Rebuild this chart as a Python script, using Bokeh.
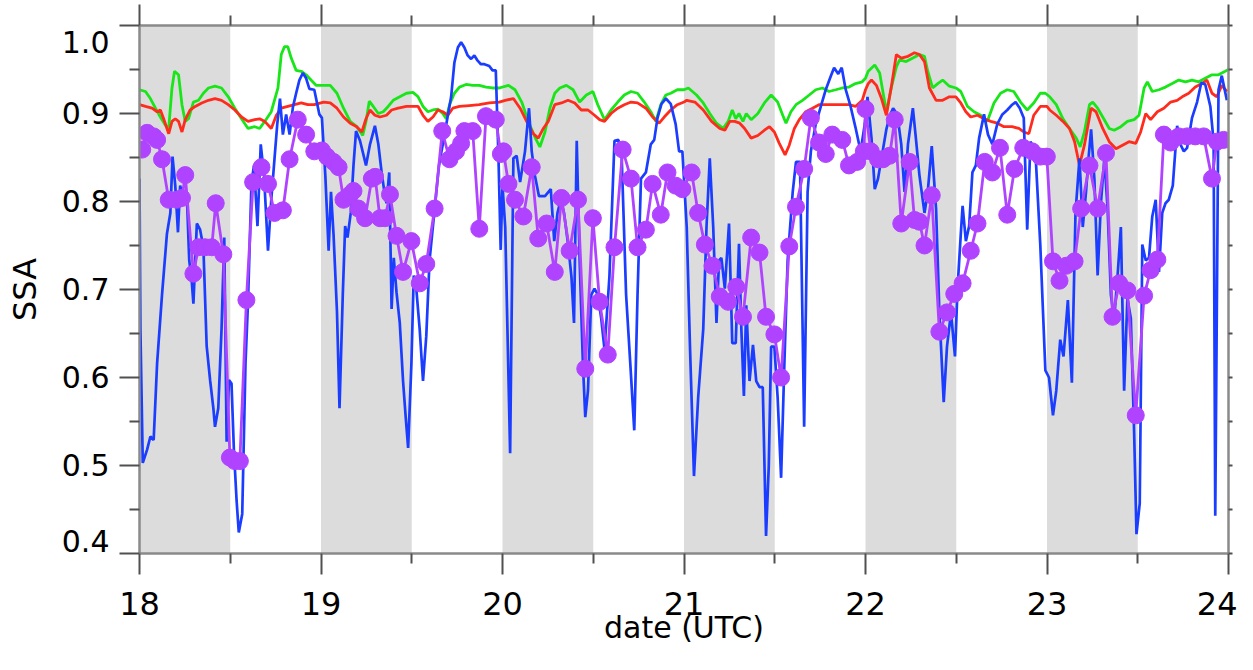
from bokeh.plotting import figure
from bokeh.models import (Range1d, LinearAxis, FixedTicker,
                          PrintfTickFormatter, CustomLabelingPolicy)
from bokeh.embed import file_html
from bokeh.resources import INLINE

# ---------------- data ----------------
shade_start = [18, 19, 20, 21, 22, 23]
shade_end = [18.5, 19.5, 20.5, 21.5, 22.5, 23.5]

x_ticks = [18, 19, 20, 21, 22, 23, 24]
x_minor = [18.5, 19.5, 20.5, 21.5, 22.5, 23.5]
y_ticks = [0.4, 0.5, 0.6, 0.7, 0.8, 0.9, 1.0]
y_minor = [0.45, 0.55, 0.65, 0.75, 0.85, 0.95]

green_pts = [
    (18.000, 0.927), (18.033, 0.925), (18.060, 0.917), (18.088, 0.906), (18.115, 0.896), (18.142, 0.887),
    (18.161, 0.883), (18.179, 0.929), (18.193, 0.948), (18.215, 0.944), (18.234, 0.910), (18.252, 0.891),
    (18.270, 0.894), (18.297, 0.913), (18.325, 0.915), (18.352, 0.923), (18.380, 0.929), (18.416, 0.931),
    (18.452, 0.929), (18.489, 0.919), (18.525, 0.906), (18.562, 0.894), (18.598, 0.883), (18.635, 0.885),
    (18.662, 0.883), (18.690, 0.891), (18.726, 0.902), (18.763, 0.929), (18.781, 0.967), (18.799, 0.976),
    (18.817, 0.976), (18.836, 0.963), (18.863, 0.949), (18.891, 0.948), (18.918, 0.944), (18.945, 0.938),
    (18.973, 0.932),
    (19.015, 0.932), (19.051, 0.932), (19.088, 0.923), (19.124, 0.906), (19.161, 0.891), (19.197, 0.885),
    (19.230, 0.875), (19.248, 0.891), (19.266, 0.914), (19.288, 0.908), (19.316, 0.900), (19.343, 0.902),
    (19.370, 0.908), (19.398, 0.915), (19.434, 0.919), (19.471, 0.923), (19.507, 0.924), (19.535, 0.919),
    (19.562, 0.908), (19.589, 0.902), (19.617, 0.904), (19.644, 0.905), (19.671, 0.900), (19.690, 0.894),
    (19.708, 0.910), (19.735, 0.923), (19.763, 0.930), (19.799, 0.933), (19.836, 0.932), (19.872, 0.932),
    (19.909, 0.930), (19.945, 0.929), (19.982, 0.929),
    (20.033, 0.932), (20.069, 0.927), (20.106, 0.913), (20.142, 0.891), (20.179, 0.873), (20.206, 0.862),
    (20.234, 0.879), (20.261, 0.906), (20.288, 0.923), (20.316, 0.929), (20.352, 0.932), (20.389, 0.927),
    (20.425, 0.913), (20.462, 0.921), (20.498, 0.925), (20.525, 0.910), (20.562, 0.893), (20.598, 0.904),
    (20.635, 0.913), (20.671, 0.921), (20.708, 0.925), (20.744, 0.923), (20.781, 0.913), (20.817, 0.902),
    (20.845, 0.891), (20.872, 0.910), (20.900, 0.921), (20.927, 0.923), (20.963, 0.927),
    (21.000, 0.927), (21.024, 0.929), (21.069, 0.921), (21.106, 0.912), (21.142, 0.900), (21.179, 0.889),
    (21.215, 0.883), (21.243, 0.891), (21.266, 0.904), (21.285, 0.894), (21.303, 0.900), (21.325, 0.891),
    (21.343, 0.900), (21.370, 0.893), (21.407, 0.900), (21.443, 0.912), (21.480, 0.921), (21.516, 0.913),
    (21.544, 0.898), (21.562, 0.889), (21.589, 0.902), (21.617, 0.910), (21.653, 0.915), (21.690, 0.921),
    (21.726, 0.927), (21.763, 0.929), (21.799, 0.925), (21.836, 0.927), (21.872, 0.929), (21.909, 0.930),
    (21.945, 0.934), (21.982, 0.936),
    (22.000, 0.940), (22.015, 0.948), (22.051, 0.955), (22.078, 0.946), (22.115, 0.902), (22.142, 0.929),
    (22.170, 0.953), (22.188, 0.961), (22.224, 0.959), (22.261, 0.963), (22.297, 0.967), (22.325, 0.965),
    (22.343, 0.948), (22.370, 0.929), (22.398, 0.934), (22.425, 0.938), (22.462, 0.931), (22.498, 0.929),
    (22.525, 0.925), (22.562, 0.908), (22.598, 0.902), (22.635, 0.898), (22.671, 0.891), (22.708, 0.912),
    (22.744, 0.923), (22.781, 0.927), (22.817, 0.925), (22.854, 0.913), (22.891, 0.904), (22.927, 0.912),
    (22.963, 0.923), (22.991, 0.923),
    (23.015, 0.919), (23.051, 0.910), (23.088, 0.894), (23.124, 0.883), (23.161, 0.872), (23.183, 0.862),
    (23.206, 0.879), (23.234, 0.910), (23.252, 0.913), (23.279, 0.906), (23.307, 0.896), (23.343, 0.883),
    (23.370, 0.881), (23.407, 0.885), (23.443, 0.891), (23.480, 0.893), (23.507, 0.898), (23.535, 0.929),
    (23.553, 0.936), (23.580, 0.925), (23.617, 0.927), (23.653, 0.930), (23.690, 0.934), (23.726, 0.938),
    (23.763, 0.936), (23.799, 0.938), (23.836, 0.936), (23.872, 0.940), (23.909, 0.944), (23.945, 0.944),
    (23.982, 0.948), (24.000, 0.950),
]

red_pts = [
    (18.000, 0.910), (18.033, 0.908), (18.069, 0.906), (18.097, 0.902), (18.115, 0.904), (18.133, 0.894),
    (18.161, 0.877), (18.179, 0.891), (18.197, 0.894), (18.215, 0.891), (18.234, 0.879), (18.252, 0.893),
    (18.279, 0.904), (18.307, 0.908), (18.343, 0.912), (18.380, 0.915), (18.416, 0.917), (18.452, 0.915),
    (18.489, 0.910), (18.525, 0.904), (18.562, 0.896), (18.598, 0.891), (18.635, 0.893), (18.662, 0.894),
    (18.690, 0.891), (18.726, 0.883), (18.754, 0.898), (18.781, 0.906), (18.817, 0.908), (18.854, 0.910),
    (18.891, 0.912), (18.927, 0.910), (18.963, 0.910),
    (19.015, 0.913), (19.051, 0.912), (19.088, 0.906), (19.124, 0.896), (19.161, 0.889), (19.197, 0.885),
    (19.225, 0.879), (19.248, 0.894), (19.270, 0.904), (19.297, 0.898), (19.325, 0.896), (19.361, 0.898),
    (19.389, 0.904), (19.425, 0.906), (19.471, 0.908), (19.507, 0.908), (19.535, 0.908), (19.562, 0.898),
    (19.589, 0.891), (19.617, 0.896), (19.644, 0.904), (19.671, 0.902), (19.699, 0.898), (19.726, 0.906),
    (19.763, 0.908), (19.817, 0.909), (19.872, 0.910), (19.927, 0.912), (19.982, 0.913),
    (20.015, 0.915), (20.060, 0.917), (20.097, 0.906), (20.133, 0.891), (20.170, 0.877), (20.197, 0.872),
    (20.225, 0.883), (20.252, 0.891), (20.288, 0.910), (20.325, 0.912), (20.361, 0.915), (20.398, 0.912),
    (20.434, 0.904), (20.471, 0.904), (20.507, 0.898), (20.535, 0.893), (20.562, 0.891), (20.598, 0.900),
    (20.635, 0.906), (20.671, 0.910), (20.708, 0.913), (20.744, 0.912), (20.790, 0.906), (20.827, 0.896),
    (20.863, 0.889), (20.891, 0.896), (20.927, 0.904), (20.963, 0.910),
    (21.000, 0.913), (21.015, 0.915), (21.060, 0.913), (21.106, 0.904), (21.152, 0.891), (21.197, 0.883),
    (21.225, 0.881), (21.252, 0.891), (21.279, 0.891), (21.307, 0.889), (21.334, 0.883), (21.370, 0.872),
    (21.407, 0.875), (21.443, 0.881), (21.471, 0.885), (21.498, 0.879), (21.525, 0.866), (21.557, 0.853),
    (21.580, 0.864), (21.608, 0.883), (21.635, 0.893), (21.671, 0.902), (21.708, 0.906), (21.744, 0.910),
    (21.799, 0.910), (21.854, 0.910), (21.909, 0.910), (21.945, 0.908), (21.982, 0.915),
    (22.000, 0.927), (22.015, 0.934), (22.033, 0.938), (22.060, 0.932), (22.088, 0.917), (22.115, 0.898),
    (22.142, 0.930), (22.170, 0.967), (22.197, 0.963), (22.234, 0.965), (22.270, 0.969), (22.297, 0.967),
    (22.325, 0.959), (22.352, 0.929), (22.389, 0.915), (22.425, 0.915), (22.462, 0.919), (22.498, 0.919),
    (22.525, 0.912), (22.553, 0.902), (22.580, 0.896), (22.617, 0.898), (22.653, 0.894), (22.690, 0.891),
    (22.726, 0.889), (22.763, 0.885), (22.808, 0.885), (22.845, 0.883), (22.872, 0.879), (22.900, 0.877),
    (22.927, 0.898), (22.963, 0.908), (23.000, 0.908),
    (23.015, 0.904), (23.051, 0.898), (23.088, 0.891), (23.124, 0.883), (23.152, 0.868), (23.179, 0.841),
    (23.206, 0.864), (23.243, 0.906), (23.270, 0.902), (23.307, 0.883), (23.343, 0.868), (23.380, 0.860),
    (23.416, 0.864), (23.452, 0.868), (23.489, 0.866), (23.516, 0.879), (23.544, 0.900), (23.571, 0.893),
    (23.608, 0.902), (23.644, 0.906), (23.681, 0.913), (23.717, 0.915), (23.745, 0.919), (23.781, 0.923),
    (23.817, 0.930), (23.854, 0.934), (23.881, 0.938), (23.909, 0.923), (23.936, 0.919), (23.963, 0.932),
    (23.991, 0.925),
]

blue_pts = [
    (18.000, 0.826), (18.005, 0.655), (18.018, 0.503), (18.042, 0.518), (18.060, 0.533), (18.078, 0.529),
    (18.097, 0.616), (18.124, 0.694), (18.151, 0.763), (18.170, 0.787), (18.182, 0.851), (18.197, 0.818),
    (18.212, 0.765), (18.224, 0.818), (18.243, 0.802), (18.261, 0.806), (18.274, 0.733), (18.288, 0.709),
    (18.297, 0.684), (18.316, 0.775), (18.334, 0.768), (18.352, 0.748), (18.370, 0.636), (18.389, 0.597),
    (18.407, 0.565), (18.416, 0.544), (18.434, 0.565), (18.452, 0.655), (18.467, 0.759), (18.480, 0.527),
    (18.493, 0.597), (18.507, 0.593), (18.520, 0.518), (18.535, 0.460), (18.547, 0.424), (18.566, 0.445),
    (18.584, 0.616), (18.598, 0.686), (18.617, 0.822), (18.631, 0.841), (18.650, 0.772), (18.668, 0.865),
    (18.686, 0.830), (18.708, 0.744), (18.726, 0.802), (18.744, 0.849), (18.759, 0.888), (18.774, 0.917),
    (18.790, 0.876), (18.808, 0.899), (18.827, 0.876), (18.845, 0.907), (18.863, 0.923), (18.881, 0.938),
    (18.900, 0.946), (18.918, 0.940), (18.936, 0.928), (18.963, 0.927), (18.991, 0.899),
    (19.005, 0.895), (19.024, 0.829), (19.042, 0.744), (19.055, 0.811), (19.069, 0.763), (19.088, 0.675),
    (19.102, 0.565), (19.120, 0.694), (19.133, 0.772), (19.146, 0.759), (19.164, 0.787), (19.179, 0.841),
    (19.193, 0.880), (19.215, 0.869), (19.248, 0.841), (19.270, 0.865), (19.297, 0.886), (19.316, 0.865),
    (19.334, 0.833), (19.347, 0.814), (19.361, 0.798), (19.376, 0.833), (19.389, 0.678), (19.401, 0.736),
    (19.416, 0.697), (19.434, 0.662), (19.452, 0.596), (19.467, 0.554), (19.480, 0.520), (19.498, 0.615),
    (19.511, 0.716), (19.525, 0.701), (19.544, 0.654), (19.562, 0.596), (19.580, 0.647), (19.598, 0.733),
    (19.626, 0.791), (19.650, 0.841), (19.671, 0.865), (19.693, 0.891), (19.717, 0.919), (19.735, 0.958),
    (19.754, 0.975), (19.772, 0.981), (19.790, 0.975), (19.808, 0.966), (19.827, 0.962), (19.845, 0.966),
    (19.863, 0.960), (19.881, 0.956), (19.900, 0.956), (19.927, 0.954), (19.945, 0.949), (19.963, 0.949),
    (19.978, 0.849), (19.990, 0.745), (20.000, 0.818),
    (20.015, 0.771), (20.042, 0.514), (20.060, 0.849), (20.078, 0.852), (20.097, 0.822), (20.124, 0.857),
    (20.146, 0.906), (20.161, 0.857), (20.179, 0.829), (20.201, 0.806), (20.234, 0.806), (20.266, 0.814),
    (20.285, 0.755), (20.303, 0.787), (20.321, 0.802), (20.339, 0.787), (20.361, 0.752), (20.380, 0.714),
    (20.394, 0.662), (20.409, 0.869), (20.425, 0.733), (20.443, 0.616), (20.456, 0.555), (20.471, 0.585),
    (20.489, 0.694), (20.507, 0.701), (20.525, 0.694), (20.544, 0.667), (20.562, 0.632), (20.589, 0.714),
    (20.617, 0.869), (20.639, 0.870), (20.657, 0.849), (20.681, 0.694), (20.704, 0.616), (20.726, 0.540),
    (20.744, 0.694), (20.763, 0.826), (20.790, 0.833), (20.817, 0.865), (20.836, 0.870), (20.854, 0.895),
    (20.876, 0.911), (20.900, 0.917), (20.927, 0.911), (20.954, 0.888), (20.973, 0.857), (20.991, 0.857),
    (21.015, 0.771), (21.033, 0.635), (21.055, 0.488), (21.078, 0.577), (21.106, 0.655), (21.124, 0.771),
    (21.142, 0.849), (21.161, 0.771), (21.179, 0.662), (21.193, 0.733), (21.206, 0.736), (21.225, 0.701),
    (21.248, 0.775), (21.266, 0.639), (21.285, 0.639), (21.303, 0.752), (21.316, 0.655), (21.330, 0.579),
    (21.343, 0.682), (21.361, 0.596), (21.380, 0.637), (21.398, 0.596), (21.416, 0.589), (21.434, 0.589),
    (21.452, 0.420), (21.467, 0.499), (21.480, 0.635), (21.498, 0.635), (21.516, 0.577), (21.535, 0.486),
    (21.553, 0.616), (21.571, 0.733), (21.599, 0.811), (21.617, 0.845), (21.639, 0.845), (21.662, 0.544),
    (21.681, 0.811), (21.699, 0.857), (21.726, 0.888), (21.754, 0.908), (21.781, 0.927), (21.808, 0.942),
    (21.827, 0.952), (21.850, 0.945), (21.869, 0.952), (21.891, 0.927), (21.918, 0.908), (21.945, 0.884),
    (21.973, 0.857), (21.996, 0.888),
    (22.011, 0.919), (22.033, 0.872), (22.051, 0.814), (22.069, 0.826), (22.088, 0.849), (22.115, 0.882),
    (22.133, 0.897), (22.152, 0.906), (22.175, 0.899), (22.197, 0.865), (22.215, 0.811), (22.234, 0.865),
    (22.261, 0.906), (22.279, 0.869), (22.297, 0.830), (22.325, 0.787), (22.343, 0.811), (22.365, 0.863),
    (22.389, 0.791), (22.407, 0.674), (22.431, 0.572), (22.449, 0.635), (22.471, 0.674), (22.493, 0.624),
    (22.507, 0.701), (22.525, 0.763), (22.535, 0.795), (22.553, 0.755), (22.571, 0.772), (22.589, 0.833),
    (22.608, 0.841), (22.626, 0.872), (22.653, 0.899), (22.675, 0.876), (22.699, 0.865), (22.726, 0.888),
    (22.754, 0.899), (22.781, 0.904), (22.808, 0.910), (22.827, 0.913), (22.850, 0.906), (22.872, 0.895),
    (22.891, 0.768), (22.909, 0.868), (22.936, 0.857), (22.963, 0.751), (22.991, 0.608),
    (23.011, 0.600), (23.033, 0.557), (23.051, 0.585), (23.073, 0.643), (23.091, 0.624), (23.115, 0.688),
    (23.137, 0.594), (23.157, 0.787), (23.179, 0.849), (23.197, 0.771), (23.215, 0.811), (23.230, 0.852),
    (23.243, 0.882), (23.261, 0.826), (23.279, 0.716), (23.297, 0.798), (23.316, 0.849), (23.334, 0.791),
    (23.352, 0.694), (23.370, 0.667), (23.389, 0.716), (23.407, 0.771), (23.425, 0.585), (23.443, 0.690),
    (23.462, 0.667), (23.480, 0.538), (23.493, 0.422), (23.511, 0.457), (23.525, 0.751), (23.544, 0.733),
    (23.562, 0.736), (23.580, 0.783), (23.599, 0.802), (23.617, 0.720), (23.635, 0.787), (23.653, 0.798),
    (23.671, 0.802), (23.693, 0.818), (23.717, 0.886), (23.735, 0.865), (23.754, 0.857), (23.772, 0.861),
    (23.799, 0.895), (23.827, 0.913), (23.850, 0.935), (23.872, 0.933), (23.900, 0.908), (23.918, 0.868),
    (23.927, 0.443), (23.945, 0.927), (23.963, 0.943), (23.991, 0.915),
]

purple_pts = [
    (18.015, 0.859), (18.042, 0.878), (18.078, 0.874), (18.097, 0.870), (18.124, 0.848), (18.161, 0.802),
    (18.206, 0.802), (18.234, 0.804), (18.252, 0.830), (18.297, 0.718), (18.325, 0.748), (18.361, 0.748),
    (18.398, 0.748), (18.420, 0.798), (18.462, 0.740), (18.498, 0.509), (18.525, 0.505), (18.553, 0.505),
    (18.589, 0.688), (18.626, 0.822), (18.672, 0.839), (18.708, 0.820), (18.744, 0.787), (18.790, 0.790),
    (18.827, 0.848), (18.872, 0.893), (18.918, 0.876), (18.963, 0.857),
    (19.005, 0.858), (19.033, 0.851), (19.069, 0.845), (19.097, 0.839), (19.124, 0.802), (19.161, 0.808),
    (19.179, 0.812), (19.206, 0.792), (19.243, 0.781), (19.280, 0.826), (19.298, 0.828), (19.325, 0.781),
    (19.352, 0.781), (19.380, 0.808), (19.416, 0.761), (19.452, 0.720), (19.498, 0.755), (19.544, 0.707),
    (19.580, 0.729), (19.626, 0.792), (19.668, 0.880), (19.708, 0.848), (19.744, 0.857), (19.772, 0.866),
    (19.790, 0.880), (19.836, 0.880), (19.872, 0.769), (19.909, 0.897), (19.963, 0.893), (19.991, 0.854),
    (20.005, 0.857), (20.033, 0.820), (20.069, 0.802), (20.115, 0.783), (20.161, 0.839), (20.197, 0.758),
    (20.243, 0.775), (20.288, 0.720), (20.325, 0.804), (20.370, 0.744), (20.416, 0.802), (20.456, 0.610),
    (20.498, 0.781), (20.535, 0.686), (20.580, 0.626), (20.617, 0.748), (20.662, 0.859), (20.708, 0.826),
    (20.744, 0.748), (20.790, 0.768), (20.827, 0.820), (20.872, 0.785), (20.909, 0.833), (20.954, 0.818),
    (20.991, 0.814),
    (21.042, 0.833), (21.078, 0.787), (21.115, 0.751), (21.157, 0.727), (21.197, 0.692), (21.243, 0.686),
    (21.288, 0.703), (21.325, 0.669), (21.370, 0.759), (21.416, 0.742), (21.452, 0.669), (21.498, 0.649),
    (21.535, 0.600), (21.580, 0.749), (21.617, 0.794), (21.662, 0.837), (21.699, 0.895), (21.744, 0.867),
    (21.781, 0.854), (21.817, 0.876), (21.872, 0.870), (21.909, 0.841), (21.954, 0.845), (21.991, 0.857),
    (22.000, 0.905), (22.029, 0.857), (22.069, 0.848), (22.097, 0.848), (22.133, 0.852), (22.161, 0.893),
    (22.197, 0.775), (22.243, 0.845), (22.270, 0.779), (22.297, 0.777), (22.325, 0.750), (22.365, 0.807),
    (22.407, 0.652), (22.449, 0.674), (22.489, 0.695), (22.535, 0.707), (22.580, 0.744), (22.617, 0.775),
    (22.657, 0.845), (22.699, 0.833), (22.741, 0.861), (22.781, 0.785), (22.821, 0.837), (22.869, 0.861),
    (22.918, 0.857), (22.963, 0.851), (22.999, 0.851),
    (23.033, 0.732), (23.069, 0.710), (23.106, 0.727), (23.152, 0.732), (23.188, 0.792), (23.234, 0.841),
    (23.279, 0.792), (23.325, 0.855), (23.361, 0.669), (23.398, 0.707), (23.443, 0.699), (23.489, 0.557),
    (23.535, 0.693), (23.571, 0.722), (23.608, 0.734), (23.644, 0.876), (23.681, 0.867), (23.726, 0.874),
    (23.772, 0.874), (23.817, 0.874), (23.863, 0.874), (23.909, 0.826), (23.936, 0.868), (23.973, 0.870),
]

green_time, green_ssa = [list(a) for a in zip(*green_pts)]
red_time, red_ssa = [list(a) for a in zip(*red_pts)]
blue_time, blue_ssa = [list(a) for a in zip(*blue_pts)]
purple_time, purple_ssa = [list(a) for a in zip(*purple_pts)]

# ---------------- figure ----------------
FONT = "DejaVu Sans"
AXIS_COL = "#8a8a8a"
TICK_COL = "#505050"

p = figure(width=1237, height=654,
           x_range=Range1d(18, 24), y_range=Range1d(0.4, 1.0),
           output_backend="svg", toolbar_location=None,
           x_axis_location=None, y_axis_location=None,
           min_border_left=139, min_border_right=4,
           min_border_top=21, min_border_bottom=101)
p.outline_line_color = None
p.background_fill_color = "white"
p.border_fill_color = "white"
p.xgrid.visible = False
p.ygrid.visible = False

# shaded night-time bands
p.quad(left=shade_start, right=shade_end, bottom=y_ticks[0], top=y_ticks[-1],
       fill_color="#dcdcdc", line_color=None)

p.line(green_time, green_ssa, line_color="#19e619", line_width=2.8)
p.line(red_time, red_ssa, line_color="#ff2b1c", line_width=2.8)
p.line(blue_time, blue_ssa, line_color="#1b3dff", line_width=2.7)
p.line(purple_time, purple_ssa, line_color="#b043ff", line_width=2.8)
p.scatter(purple_time, purple_ssa, size=17, marker="circle",
          fill_color="#b043ff", line_color="#b043ff")

xt = FixedTicker(ticks=x_ticks, minor_ticks=x_minor)
yt = FixedTicker(ticks=y_ticks, minor_ticks=y_minor)

hide_all = "for (const i of indices) indices.unset(i); return indices"


def style(ax, tick_out, minor_out):
    ax.axis_line_color = AXIS_COL
    ax.axis_line_width = 2.5
    ax.major_tick_line_color = TICK_COL
    ax.minor_tick_line_color = TICK_COL
    ax.major_tick_line_width = 2
    ax.minor_tick_line_width = 2
    ax.major_tick_out = tick_out
    ax.major_tick_in = 0
    ax.minor_tick_out = minor_out
    ax.minor_tick_in = 0
    ax.major_label_text_color = "black"
    ax.major_label_text_font = FONT


left = LinearAxis(ticker=yt, axis_label="SSA",
                  formatter=PrintfTickFormatter(format="%.1f"))
style(left, 20, 10)
left.major_label_text_font_size = "30px"
left.major_label_text_line_height = 0.7
# end labels kept inside the axis span, as in the original
left.major_label_overrides = {y_ticks[-1]: "\n1.0", y_ticks[0]: "0.4\n"}
left.major_label_standoff = 10
left.axis_label_text_font = FONT
left.axis_label_text_font_size = "32px"
left.axis_label_text_font_style = "normal"
left.axis_label_text_color = "black"
left.axis_label_standoff = 15
p.add_layout(left, "left")

bottom = LinearAxis(ticker=xt, axis_label="date (UTC)")
style(bottom, 21, 10)
bottom.major_label_text_font_size = "32px"
bottom.major_label_text_line_height = 0.6
bottom.major_label_standoff = 17
bottom.axis_label_text_font = FONT
bottom.axis_label_text_font_size = "30px"
bottom.axis_label_text_line_height = 0.6
bottom.axis_label_text_font_style = "normal"
bottom.axis_label_text_color = "black"
bottom.axis_label_standoff = -8
p.add_layout(bottom, "below")

top = LinearAxis(ticker=xt, major_label_policy=CustomLabelingPolicy(code=hide_all))
style(top, 21, 10)
top.major_label_text_font_size = "1px"
top.major_label_standoff = 0
p.add_layout(top, "above")

right = LinearAxis(ticker=yt, major_label_policy=CustomLabelingPolicy(code=hide_all))
style(right, 4, 4)
right.major_label_text_font_size = "1px"
right.major_label_standoff = 0
p.add_layout(right, "right")

open("out.html", "w").write(file_html(p, INLINE))
